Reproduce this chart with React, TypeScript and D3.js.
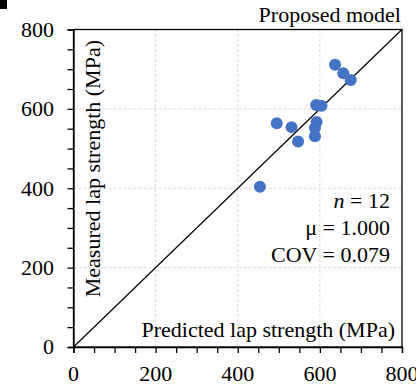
import React, { useEffect, useRef } from 'react';
import * as d3 from 'd3';

// predicted vs measured lap strength (MPa)
const predicted = [637, 657, 675, 591, 604, 495, 531, 592, 588, 588, 547, 454];
const measured = [711, 690, 673, 610, 608, 564, 554, 567, 552, 531, 518, 404];
const majorTicks = [0, 200, 400, 600, 800];
const gridTicks = [200, 400, 600];
const statLines = ['= 12', 'μ = 1.000', 'COV = 0.079'];

const App = () => {
    const svgRef = useRef<SVGSVGElement>(null);

    useEffect(() => {
        const svg = d3.select(svgRef.current);
        svg.selectAll('*').remove();

        const width = 416;
        const height = 384;
        const margin = { top: 29.5, right: 14, bottom: 37, left: 73.5 };

        const x = d3.scaleLinear().domain([0, 800]).range([margin.left, width - margin.right]);
        const y = d3.scaleLinear().domain([0, 800]).range([height - margin.bottom, margin.top]);

        // little black mark from neighbouring panel
        svg.append('rect').attr('x', 0).attr('y', 0).attr('width', 7).attr('height', 9).attr('fill', '#000');

        const grid = svg.append('g').attr('stroke', '#d9d9d9').attr('stroke-dasharray', '3,2').attr('stroke-width', 1);
        grid.selectAll('.gx').data(gridTicks).join('line')
            .attr('class', 'gx')
            .attr('x1', d => x(d)).attr('x2', d => x(d))
            .attr('y1', y(0)).attr('y2', y(800));
        grid.selectAll('.gy').data(gridTicks).join('line')
            .attr('class', 'gy')
            .attr('y1', d => y(d)).attr('y2', d => y(d))
            .attr('x1', x(0)).attr('x2', x(800));

        // frame
        svg.append('rect')
            .attr('x', x(0)).attr('y', y(800))
            .attr('width', x(800) - x(0)).attr('height', y(0) - y(800))
            .attr('fill', 'none').attr('stroke', '#000').attr('stroke-width', 1.3);

        // 1:1 line
        svg.append('line')
            .attr('x1', x(0)).attr('y1', y(0)).attr('x2', x(800)).attr('y2', y(800))
            .attr('stroke', '#000').attr('stroke-width', 1.2);

        const xAxis = svg.append('g').attr('transform', `translate(0,${y(0)})`)
            .call(d3.axisBottom(x).tickValues(d3.range(0, 801, 50)).tickSize(6).tickFormat(() => ''));
        const yAxis = svg.append('g').attr('transform', `translate(${x(0)},0)`)
            .call(d3.axisLeft(y).tickValues(d3.range(0, 801, 50)).tickSize(6).tickFormat(() => ''));
        [xAxis, yAxis].forEach(a => {
            a.select('.domain').attr('stroke-width', 1.3);
            a.selectAll('line').attr('stroke-width', 1.3);
        });

        const txt = svg.append('g').attr('class', 'txt');

        txt.append('g').selectAll('text').data(majorTicks).join('text')
            .attr('x', d => x(d)).attr('y', 381)
            .attr('text-anchor', 'middle')
            .text(d => d);
        txt.append('g').selectAll('text').data(majorTicks).join('text')
            .attr('x', 54).attr('y', d => y(d)).attr('dy', '0.34em')
            .attr('text-anchor', 'end')
            .text(d => d);

        svg.append('g').selectAll('circle').data(predicted).join('circle')
            .attr('cx', d => x(d))
            .attr('cy', (d, i) => y(measured[i]))
            .attr('r', 6)
            .attr('fill', '#4472C4');

        txt.append('text')
            .attr('x', 401).attr('y', 22)
            .attr('text-anchor', 'end')
            .text('Proposed model');

        txt.append('text')
            .attr('x', 395).attr('y', 337)
            .attr('text-anchor', 'end')
            .text('Predicted lap strength (MPa)');

        txt.append('text')
            .attr('transform', 'translate(100,40) rotate(-90)')
            .attr('text-anchor', 'end')
            .text('Measured lap strength (MPa)');

        const stats = txt.append('g').attr('text-anchor', 'end');
        statLines.forEach((s, i) => {
            const t = stats.append('text').attr('x', 390).attr('y', 208 + i * 27);
            if (i === 0) {
                t.append('tspan').attr('font-style', 'italic').text('n');
                t.append('tspan').text(' ' + s);
            } else {
                t.text(s);
            }
        });
        txt.selectAll('text')
            .style('font-family', "'Liberation Serif', 'Times New Roman', serif")
            .style('font-size', '22px');
    }, []);

    return (
        <svg ref={svgRef} width={416} height={384} style={{ position: 'absolute', left: 0, top: 0 }}></svg>
    );
};

export default App;
